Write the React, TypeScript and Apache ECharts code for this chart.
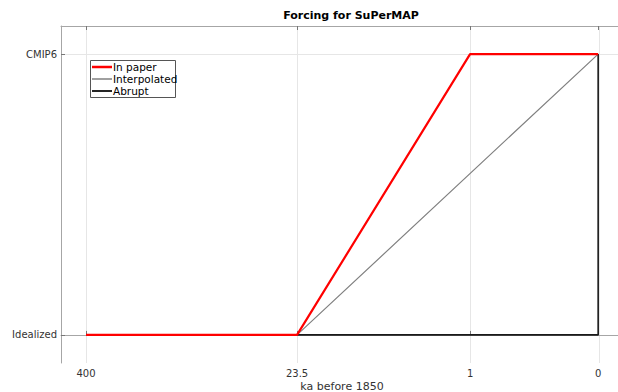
import React, { useEffect, useRef } from "react";
import * as echarts from "echarts";

// Tick labels of the (non-linear) x axis and where they sit along it
const xTickLabels = ["400", "23.5", "1", "0"];
const xTickPositions = [1, 2, 2.82, 3.427];
// y levels
const yLevelLabels = ["Idealized", "CMIP6"];
const yLevelValues = [0, 1];

// Series (x given as ka-before-1850 labels, y as level index)
const seriesNames = ["In paper", "Interpolated", "Abrupt"];
const inPaperKa = ["400", "23.5", "1", "0"];
const inPaperLevel = [0, 0, 1, 1];
const interpolatedKa = ["400", "23.5", "0"];
const interpolatedLevel = [0, 0, 1];
const abruptKa = ["400", "23.5", "0", "0"];
const abruptLevel = [0, 0, 0, 1];

const FONT = "DejaVu Sans";
const COLORS = ["#ff0000", "#808080", "#1a1a1a"];
const WIDTHS = [2.2, 1.2, 1.6];

function toData(ka: string[], lvl: number[]) {
  return ka.map((k, i) => [xTickPositions[xTickLabels.indexOf(k)], yLevelValues[lvl[i]]]);
}

function xLabelFor(v: number) {
  const i = xTickPositions.findIndex((p) => Math.abs(p - v) < 1e-6);
  return i >= 0 ? xTickLabels[i] : "";
}
function yLabelFor(v: number) {
  const i = yLevelValues.findIndex((p) => Math.abs(p - v) < 1e-6);
  return i >= 0 ? yLevelLabels[i] : "";
}

export default function App() {
  const ref = useRef<HTMLDivElement>(null);
  useEffect(() => {
    document.body.style.margin = "0";
    const chart = echarts.init(ref.current!, null, { renderer: "svg" });
    const axisGray = "#a6a6a6";
    const gridGray = "#e6e6e6";
    const xMin = 0.8815;
    const xMax = 3.63;

    const legendLeft = 90;
    const legendTop = 60;
    const legendItems: any[] = [
      {
        type: "rect",
        shape: { x: legendLeft + 0.5, y: legendTop + 0.5, width: 85, height: 37 },
        style: { fill: "#fff", stroke: "#555", lineWidth: 1 },
        z: 10,
      },
    ];
    seriesNames.forEach((n, i) => {
      const cy = legendTop + 7 + i * 12;
      legendItems.push({
        type: "line",
        shape: { x1: legendLeft + 2, y1: cy, x2: legendLeft + 22, y2: cy },
        style: { stroke: COLORS[i], lineWidth: WIDTHS[i] + 0.3 },
        z: 11,
      });
      legendItems.push({
        type: "text",
        x: legendLeft + 23,
        y: cy,
        style: {
          text: n,
          fontFamily: FONT,
          fontSize: 10.5,
          fill: "#000",
          textVerticalAlign: "middle",
          verticalAlign: "middle",
        },
        z: 11,
      });
    });

    const gridSeries = {
      name: "Grid",
      type: "line",
      data: [],
      silent: true,
      z: 0,
      markLine: {
        silent: true,
        symbol: "none",
        z: 0,
        label: { show: false },
        lineStyle: { color: gridGray, width: 1, type: "solid" },
        data: [
          ...xTickPositions.map((p) => ({ xAxis: p })),
          ...yLevelValues.map((v) => ({ yAxis: v })),
        ],
      },
    };

    const option: any = {
      animation: false,
      backgroundColor: "#ffffff",
      textStyle: { fontFamily: FONT },
      title: {
        text: "Forcing for SuPerMAP",
        left: 351,
        top: 10,
        padding: 0,
        textAlign: "center",
        textStyle: { fontFamily: FONT, fontSize: 11, fontWeight: "bold", color: "#000" },
      },
      grid: { left: 61, top: 26, width: 580, height: 337, outerBoundsMode: "none" },
      xAxis: [
        {
          type: "value",
          position: "bottom",
          min: xMin,
          max: xMax,
          axisLine: { show: true, lineStyle: { color: axisGray, width: 1 } },
          axisTick: { show: true, inside: true, length: 4, lineStyle: { color: "#777" }, customValues: xTickPositions },
          axisLabel: {
            customValues: xTickPositions,
            formatter: (v: number) => xLabelFor(v),
            fontFamily: FONT,
            fontSize: 10,
            color: "#333",
            margin: 5,
          },
          splitLine: { show: false },
        },
        {
          type: "value",
          position: "top",
          min: xMin,
          max: xMax,
          axisLine: { show: true, lineStyle: { color: axisGray, width: 1 } },
          axisTick: { show: true, inside: true, length: 4, lineStyle: { color: "#777" }, customValues: xTickPositions },
          axisLabel: { show: false, customValues: xTickPositions },
          splitLine: { show: false },
        },
      ],
      yAxis: {
        type: "value",
        min: -0.1,
        max: 1.1,
        axisLine: { show: true, lineStyle: { color: axisGray, width: 1 } },
        axisTick: { show: true, inside: true, length: 4, lineStyle: { color: "#777" }, customValues: yLevelValues },
        axisLabel: {
          customValues: yLevelValues,
          formatter: (v: number) => yLabelFor(v),
          fontFamily: FONT,
          fontSize: 10,
          color: "#333",
          margin: 4,
        },
        splitLine: { show: false },
      },
      series: [
        gridSeries,
        {
          name: seriesNames[1],
          type: "line",
          data: toData(interpolatedKa, interpolatedLevel),
          symbol: "none",
          clip: false,
          lineStyle: { color: COLORS[1], width: WIDTHS[1] },
          z: 3,
        },
        {
          name: seriesNames[2],
          type: "line",
          data: toData(abruptKa, abruptLevel),
          symbol: "none",
          clip: false,
          lineStyle: { color: COLORS[2], width: WIDTHS[2] },
          z: 3,
        },
        {
          name: seriesNames[0],
          type: "line",
          data: toData(inPaperKa, inPaperLevel),
          symbol: "none",
          clip: false,
          lineStyle: { color: COLORS[0], width: WIDTHS[0] },
          z: 4,
        },
      ],
      graphic: [
        ...legendItems,
        {
          type: "text",
          x: 342,
          y: 386,
          style: {
            text: "ka before 1850",
            fontFamily: FONT,
            fontSize: 11,
            fill: "#333",
            align: "center",
            verticalAlign: "middle",
            textAlign: "center",
            textVerticalAlign: "middle",
          },
        },
      ],
    };
    chart.setOption(option);
    return () => chart.dispose();
  }, []);
  return (
    <div
      ref={ref}
      style={{ position: "absolute", left: 0, top: 0, width: 618, height: 392 }}
    />
  );
}
